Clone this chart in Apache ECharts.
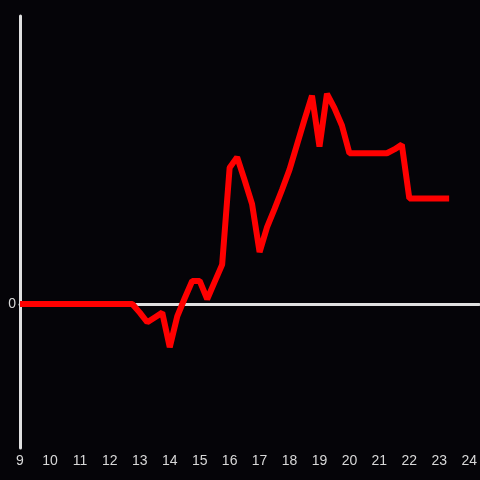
<!DOCTYPE html>
<html>
<head>
<meta charset="utf-8">
<script src="https://cdn.jsdelivr.net/npm/echarts@6/dist/echarts.min.js"></script>
<style>
html,body{margin:0;padding:0;background:#050408;}
#chart{width:480px;height:480px;}
</style>
</head>
<body>
<div id="chart"></div>
<script>
// time of day (hours)
var hours = [
  9.00, 9.25, 9.50, 9.75, 10.00, 10.25, 10.50, 10.75,
  11.00, 11.25, 11.50, 11.75, 12.00, 12.25, 12.50, 12.75,
  13.00, 13.25, 13.50, 13.75, 14.00, 14.25, 14.50, 14.75,
  15.00, 15.25, 15.50, 15.75, 16.00, 16.25, 16.50, 16.75,
  17.00, 17.25, 17.50, 17.75, 18.00, 18.25, 18.50, 18.75,
  19.00, 19.25, 19.50, 19.75, 20.00, 20.25, 20.50, 20.75,
  21.00, 21.25, 21.50, 21.75, 22.00, 22.25, 22.50, 22.75,
  23.00, 23.33
];
var values = [
  0, 0, 0, 0, 0, 0, 0, 0,
  0, 0, 0, 0, 0, 0, 0, 0,
  -0.09, -0.19, -0.14, -0.09, -0.45, -0.13, 0.06, 0.24,
  0.24, 0.05, 0.23, 0.41, 1.42, 1.53, 1.29, 1.04,
  0.54, 0.80, 0.99, 1.19, 1.40, 1.66, 1.92, 2.17,
  1.64, 2.19, 2.04, 1.86, 1.57, 1.57, 1.57, 1.57,
  1.57, 1.57, 1.61, 1.66, 1.10, 1.10, 1.10, 1.10,
  1.10, 1.10
];
var xTickLabels = ['9','10','11','12','13','14','15','16','17','18','19','20','21','22','23','24'];
var yTickLabels = ['0'];

var points = hours.map(function (h, i) { return [h, values[i]]; });
var chart = echarts.init(document.getElementById('chart'), null, {renderer: 'canvas'});
var labelFont = {color: '#d8d8d8', fontSize: 14, fontFamily: 'Liberation Sans, Arial, sans-serif'};
chart.setOption({
  backgroundColor: '#050408',
  animation: false,
  grid: {left: 20, right: 0, top: 16, bottom: 32, containLabel: false},
  xAxis: [{
    type: 'value', min: 9, max: 24.3333, interval: 1,
    position: 'bottom',
    axisLine: {show: false, onZero: false},
    axisTick: {show: false},
    splitLine: {show: false},
    axisLabel: Object.assign({
      margin: 6,
      showMaxLabel: false,
      formatter: function (v) {
        var s = String(Math.round(v));
        return (Math.abs(v - Math.round(v)) < 1e-6 && xTickLabels.indexOf(s) >= 0) ? s : '';
      }
    }, labelFont)
  }, {
    type: 'value', min: 9, max: 24.3333, interval: 1,
    position: 'top',
    axisLine: {show: true, onZero: true, lineStyle: {color: '#e0e0e0', width: 3}},
    axisTick: {show: false},
    splitLine: {show: false},
    axisLabel: {show: false}
  }],
  yAxis: {
    type: 'value', min: -1.5, max: 3, interval: 0.5,
    axisLine: {show: true, onZero: false, lineStyle: {color: '#e0e0e0', width: 3}},
    axisTick: {show: false},
    splitLine: {show: false},
    axisLabel: Object.assign({
      margin: 4,
      formatter: function (v) {
        return Math.abs(v) < 1e-9 ? yTickLabels[0] : '';
      }
    }, labelFont)
  },
  series: [{
    type: 'line',
    xAxisIndex: 0,
    data: points,
    showSymbol: false,
    symbol: 'none',
    lineStyle: {color: '#ff0000', width: 6, join: 'bevel', cap: 'butt'},
    itemStyle: {color: '#ff0000'},
    z: 5
  }]
});
</script>
</body>
</html>
